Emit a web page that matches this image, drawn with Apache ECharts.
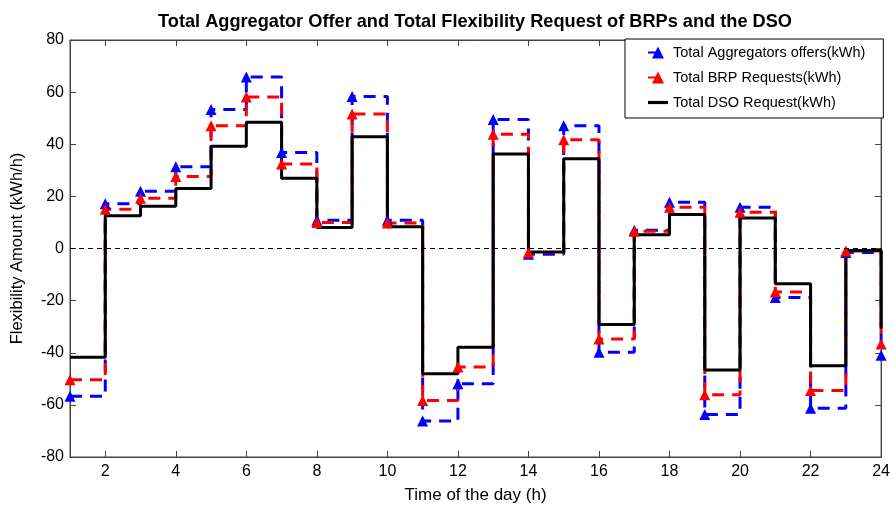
<!DOCTYPE html>
<html>
<head>
<meta charset="utf-8">
<script src="https://cdn.jsdelivr.net/npm/echarts@6/dist/echarts.min.js"></script>
<style>
  html, body { margin: 0; padding: 0; background: #fff; }
  #chart { width: 893px; height: 509px; }
</style>
</head>
<body>
<div id="chart"></div>
<script>
    // hours of the day (stairs start at each hour)
    var hours = [1, 2, 3, 4, 5, 6, 7, 8, 9, 10, 11, 12, 13, 14, 15, 16, 17, 18, 19, 20, 21, 22, 23, 24];

    var aggregatorOffers = [-56.7, 17.2, 22, 31.4, 53.3, 65.8, 36.8, 10.8, 58.3, 10.8, -66.2, -51.9,
        49.5, -2.2, 47.1, -39.8, 7, 17.7, -63.7, 15.8, -18.8, -61.3, -1.5, -41];
    var brpRequests = [-50.4, 15.1, 19.3, 27.6, 47.1, 58.1, 32.4, 10, 51.6, 9.8, -58.3, -45.5,
        43.8, -1.5, 41.7, -34.7, 6.6, 15.8, -56.1, 13.9, -16.7, -54.5, -1, -36.6];
    var dsoRequests = [-41.7, 12.6, 16.2, 23, 39.2, 48.4, 27, 8.1, 42.9, 8.3, -48.1, -37.9,
        36.3, -1.3, 34.4, -29.2, 5.3, 13, -46.6, 11.7, -13.5, -45, -0.8, -30.7];

    var xTicks = [2, 4, 6, 8, 10, 12, 14, 16, 18, 20, 22, 24];

    function pairs(ys) {
        return hours.map(function (h, i) { return [h, ys[i]]; });
    }

    var font = 'Liberation Sans';
    var myChart = echarts.init(document.getElementById('chart'), null, { renderer: 'canvas' });

    var option = {
        backgroundColor: '#fff',
        animation: false,
        title: {
            text: 'Total Aggregator Offer and Total Flexibility Request of BRPs and the DSO',
            left: 470,
            textAlign: 'center',
            top: 8,
            textStyle: { fontFamily: font, fontSize: 18.2, fontWeight: 'bold', color: '#000' }
        },
        legend: {
            orient: 'vertical',
            left: 625,
            top: 39,
            padding: [6, 18, 8, 22],
            itemGap: 10,
            itemWidth: 20,
            itemHeight: 15,
            backgroundColor: '#fff',
            borderColor: '#000',
            borderWidth: 1,
            borderRadius: 0,
            z: 10,
            textStyle: { fontFamily: font, fontSize: 14.5, color: '#000' },
            data: [
                { name: 'Total Aggregators offers(kWh)' },
                { name: 'Total BRP Requests(kWh)' },
                { name: 'Total DSO Request(kWh)', icon: 'path://M0,0H20V3.2H0Z' }
            ]
        },
        grid: {
            left: 70, right: 11, top: 40, bottom: 51,
            show: true, borderColor: '#444', borderWidth: 1
        },
        xAxis: [{
            type: 'value',
            min: 1, max: 24,
            name: 'Time of the day (h)',
            nameLocation: 'middle',
            nameGap: 30,
            nameTextStyle: { fontFamily: font, fontSize: 17, color: '#000' },
            axisLine: { show: true, onZero: false, lineStyle: { color: '#444' } },
            axisTick: { show: true, inside: true, length: 6, customValues: xTicks, lineStyle: { color: '#444' } },
            axisLabel: { customValues: xTicks, fontFamily: font, fontSize: 16, color: '#000', margin: 7 },
            splitLine: { show: false }
        }, {
            type: 'value',
            position: 'top',
            min: 1, max: 24,
            axisLine: { show: true, onZero: false, lineStyle: { color: '#444' } },
            axisTick: { show: true, inside: true, length: 6, customValues: xTicks, lineStyle: { color: '#444' } },
            axisLabel: { show: false },
            splitLine: { show: false }
        }],
        yAxis: [{
            type: 'value',
            min: -80, max: 80, interval: 20,
            name: 'Flexibility Amount (kWh/h)',
            nameLocation: 'middle',
            nameGap: 44,
            nameTextStyle: { fontFamily: font, fontSize: 16.5, color: '#000' },
            axisLine: { show: true, onZero: false, lineStyle: { color: '#444' } },
            axisTick: { show: true, inside: true, length: 6, lineStyle: { color: '#444' } },
            axisLabel: { fontFamily: font, fontSize: 16, color: '#000', margin: 6 },
            splitLine: { show: false }
        }, {
            type: 'value',
            position: 'right',
            min: -80, max: 80, interval: 20,
            axisLine: { show: true, onZero: false, lineStyle: { color: '#444' } },
            axisTick: { show: true, inside: true, length: 6, lineStyle: { color: '#444' } },
            axisLabel: { show: false },
            splitLine: { show: false }
        }],
        series: [{
            name: 'Total Aggregators offers(kWh)',
            type: 'line',
            step: 'end',
            data: pairs(aggregatorOffers),
            symbol: 'triangle',
            symbolSize: 11,
            showAllSymbol: true,
            itemStyle: { color: '#0000ff' },
            lineStyle: { color: '#0000ff', width: 3, type: [12, 8] },
            markLine: {
                silent: true,
                symbol: 'none',
                label: { show: false },
                lineStyle: { color: '#000', width: 1, type: [5, 4] },
                data: [{ yAxis: 0 }]
            }
        }, {
            name: 'Total BRP Requests(kWh)',
            type: 'line',
            step: 'end',
            data: pairs(brpRequests),
            symbol: 'triangle',
            symbolSize: 11,
            showAllSymbol: true,
            itemStyle: { color: '#ff0000' },
            lineStyle: { color: '#ff0000', width: 3, type: [12, 8] }
        }, {
            name: 'Total DSO Request(kWh)',
            type: 'line',
            step: 'end',
            data: pairs(dsoRequests),
            symbol: 'none',
            itemStyle: { color: '#000' },
            lineStyle: { color: '#000', width: 3 }
        }]
    };

    myChart.setOption(option);
</script>
</body>
</html>
